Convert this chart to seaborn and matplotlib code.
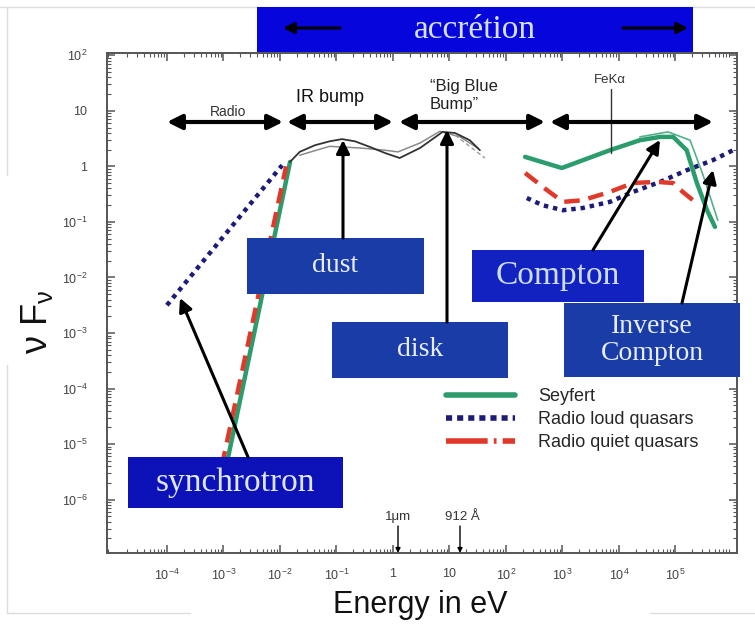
import numpy as np
import matplotlib
matplotlib.use("Agg")
import matplotlib.pyplot as plt
import seaborn as sns
from matplotlib.patches import Rectangle, FancyArrowPatch
from matplotlib.lines import Line2D
from matplotlib.ticker import FixedLocator, FuncFormatter, LogLocator, NullFormatter

# ---------------- data (log10 of energy in eV / log10 of nu F_nu) ----------------
series_names = ["Seyfert", "Radio loud quasars", "Radio quiet quasars"]

seyfert_radio_logE = [-2.95, -1.82]
seyfert_radio_logF = [-5.40, 0.08]
rquiet_radio_logE = [-3.03, -1.89]
rquiet_radio_logF = [-5.40, 0.00]
rloud_radio_logE = [-4.00, -1.96]
rloud_radio_logF = [-2.50, 0.02]

bump_logE = [-1.82, -1.65, -1.38, -1.12, -0.90, -0.67, -0.41, -0.14, 0.12, 0.48, 0.88, 1.10, 1.36, 1.54]
bump_logF = [0.08, 0.26, 0.38, 0.45, 0.49, 0.45, 0.35, 0.24, 0.15, 0.33, 0.62, 0.60, 0.47, 0.29]
bump2_logE = [-1.65, -1.12, -0.58, -0.14, 0.09, 0.48, 0.83, 1.19, 1.50]
bump2_logF = [0.20, 0.36, 0.33, 0.29, 0.26, 0.42, 0.63, 0.53, 0.33]
bump3_logE = [1.10, 1.63]
bump3_logF = [0.56, 0.15]

seyfert_x_logE = [2.34, 2.99, 3.84, 4.37, 4.73, 4.96, 5.20, 5.38, 5.56, 5.70]
seyfert_x_logF = [0.17, -0.03, 0.29, 0.47, 0.53, 0.53, 0.29, -0.30, -0.79, -1.09]
seyfert_x2_logE = [4.37, 4.87, 5.26, 5.49, 5.75]
seyfert_x2_logF = [0.53, 0.62, 0.47, -0.16, -0.97]
rquiet_x_logE = [2.34, 2.73, 3.01, 3.36, 3.84, 4.25, 4.67, 4.96, 5.13, 5.31]
rquiet_x_logF = [-0.12, -0.43, -0.64, -0.61, -0.46, -0.30, -0.28, -0.30, -0.46, -0.61]
rloud_x_logE = [2.37, 2.65, 3.01, 3.36, 3.84, 4.25, 4.73, 5.20, 5.66, 6.08]
rloud_x_logF = [-0.57, -0.70, -0.79, -0.75, -0.64, -0.46, -0.28, -0.07, 0.11, 0.32]

x_tick_exps = list(range(-4, 6))
y_tick_exps = list(range(-6, 3))

# ---------------- style ----------------
sns.set_theme(style="ticks")
plt.rcParams["font.family"] = ["Liberation Sans", "DejaVu Sans"]
plt.rcParams["mathtext.fontset"] = "custom"
plt.rcParams["mathtext.rm"] = "Liberation Sans"
plt.rcParams["mathtext.it"] = "Liberation Sans"
plt.rcParams["mathtext.bf"] = "Liberation Sans:bold"

GREEN = "#2b9c6c"
NAVY = "#1c1c78"
RED = "#e0392b"
SERIF = ["Liberation Serif", "DejaVu Serif"]

W, H = 755, 624
fig = plt.figure(figsize=(W / 100, H / 100), dpi=100)
fig.patch.set_facecolor("white")


def fx(px):
    return px / W


def fy(py):
    return 1 - py / H


ax = fig.add_axes([fx(107), fy(553), (737 - 107) / W, (553 - 53) / H])
ax.set_xscale("log")
ax.set_yscale("log")
ax.set_xlim(10 ** -5.06, 10 ** 6.09)
ax.set_ylim(10 ** -6.96, 10 ** 2.04)


def seg(logE, logF, **kw):
    sns.lineplot(x=10 ** np.asarray(logE), y=10 ** np.asarray(logF), ax=ax,
                 sort=False, estimator=None, legend=False, **kw)


# radio branch
seg(rloud_radio_logE, rloud_radio_logF, color=NAVY, lw=3.2, linestyle=(0, (1, 1.1)))
seg(seyfert_radio_logE, seyfert_radio_logF, color=GREEN, lw=3.2)
seg(rquiet_radio_logE, rquiet_radio_logF, color=RED, lw=3.2, linestyle=(0, (3.5, 2)))
# IR / optical bump
seg(bump2_logE, bump2_logF, color="#8a8a8a", lw=1.1)
seg(bump_logE, bump_logF, color="#333333", lw=1.3)
seg(bump3_logE, bump3_logF, color="#9a9a9a", lw=1.0, linestyle=(0, (3, 2)))
# X-ray branch
seg(seyfert_x2_logE, seyfert_x2_logF, color=GREEN, lw=1.2, alpha=0.8)
seg(rloud_x_logE, rloud_x_logF, color=NAVY, lw=3.2, linestyle=(0, (1, 1.1)))
seg(rquiet_x_logE, rquiet_x_logF, color=RED, lw=3.2, linestyle=(0, (3.5, 2)))
seg(seyfert_x_logE, seyfert_x_logF, color=GREEN, lw=3.2)

# ---------------- axes cosmetics ----------------
for s in ax.spines.values():
    s.set_color("#555555")
    s.set_linewidth(1.4)


def fmt(v, pos=None):
    e = int(round(np.log10(v)))
    if e == 0:
        return "1"
    if e == 1:
        return "10"
    return r"$10^{%d}$" % e


ax.xaxis.set_major_locator(FixedLocator([10.0 ** e for e in x_tick_exps]))
ax.yaxis.set_major_locator(FixedLocator([10.0 ** e for e in y_tick_exps]))
ax.xaxis.set_major_formatter(FuncFormatter(fmt))
ax.yaxis.set_major_formatter(FuncFormatter(fmt))
ax.xaxis.set_minor_locator(LogLocator(base=10, subs=np.arange(2, 10), numticks=30))
ax.yaxis.set_minor_locator(LogLocator(base=10, subs=np.arange(2, 10), numticks=30))
ax.xaxis.set_minor_formatter(NullFormatter())
ax.yaxis.set_minor_formatter(NullFormatter())
ax.tick_params(which="both", direction="in", top=True, right=True, color="#555555")
ax.tick_params(which="major", length=6, width=1.1, labelsize=9, labelcolor="#444444")
ax.tick_params(which="minor", length=3, width=0.8)
ax.tick_params(axis="x", which="major", pad=11)
ax.tick_params(axis="y", which="major", pad=14)

ax.set_xlabel("Energy in eV", fontsize=22, color="#111111")
ax.xaxis.set_label_coords(0.497, -0.074)
ax.set_ylabel(r"$\nu\ F_{\nu}$", fontsize=26, color="#111111")
ax.yaxis.set_label_coords(-0.083, 0.462)

# legend
handles = [
    Line2D([], [], color=GREEN, lw=4),
    Line2D([], [], color=NAVY, lw=4, linestyle=(0, (1.1, 0.9))),
    Line2D([], [], color=RED, lw=4, linestyle=(0, (7.5, 1.1, 0.5, 1.1))),
]
leg = ax.legend(handles, series_names, loc="upper left", bbox_to_anchor=(fx(446), fy(388)),
                bbox_transform=fig.transFigure, frameon=False, fontsize=13,
                handlelength=3.8, handletextpad=1.3, labelspacing=0.33,
                borderpad=0, borderaxespad=0)

# ---------------- annotations (figure pixel layout) ----------------
def fig_line(x0, y0, x1, y1, color="#dddddd", lw=1.0):
    fig.add_artist(Line2D([fx(x0), fx(x1)], [fy(y0), fy(y1)], transform=fig.transFigure,
                          color=color, lw=lw, zorder=1))


fig_line(0, 7, 755, 7)
fig_line(7, 7, 7, 175)
fig_line(7, 365, 7, 613)
fig_line(7, 613, 190, 613)
fig_line(650, 613, 755, 613)


def arrow(x0, y0, x1, y1, style="-|>", lw=2.2, ms=20, z=12):
    fig.add_artist(FancyArrowPatch((fx(x0), fy(y0)), (fx(x1), fy(y1)), transform=fig.transFigure,
                                   arrowstyle=style, mutation_scale=ms, lw=lw, color="black",
                                   shrinkA=0, shrinkB=0, zorder=z))


def box(x0, y0, x1, y1, color, text, size, tcolor="#e8eeff", ls=1.2):
    fig.add_artist(Rectangle((fx(x0), fy(y1)), (x1 - x0) / W, (y1 - y0) / H,
                             transform=fig.transFigure, facecolor=color, edgecolor="none", zorder=10))
    fig.text(fx((x0 + x1) / 2), fy((y0 + y1) / 2), text, ha="center", va="center",
             fontsize=size, color=tcolor, family=SERIF, zorder=11, linespacing=ls)


# region double arrows
arrow(167, 122, 283, 122, style="<|-|>", lw=3, ms=22)
arrow(287, 122, 393, 122, style="<|-|>", lw=3, ms=22)
arrow(399, 122, 545, 122, style="<|-|>", lw=3, ms=22)
arrow(550, 122, 713, 122, style="<|-|>", lw=3, ms=22)

fig.text(fx(228), fy(112), "Radio", ha="center", va="center", fontsize=10, color="#333333")
fig.text(fx(330), fy(98), "IR bump", ha="center", va="center", fontsize=13, color="#111111")
fig.text(fx(430), fy(96), "\u201cBig Blue\nBump\u201d", ha="left", va="center", fontsize=12,
         color="#222222", linespacing=1.25)
fig.text(fx(610), fy(80), "FeK\u03b1", ha="center", va="center", fontsize=9.5, color="#333333")
fig_line(611, 89, 611, 153, color="#333333", lw=1.0)

fig.text(fx(398), fy(517), "1\u03bcm", ha="center", va="center", fontsize=9.5, color="#333333")
arrow(398, 526, 398, 553, lw=1.0, ms=7)
fig.text(fx(462), fy(517), "912 \u00c5", ha="center", va="center", fontsize=9.5, color="#333333")
arrow(460, 526, 460, 553, lw=1.0, ms=7)

# accretion banner
box(257, 7, 693, 52, "#0606dc", "accr\u00e9tion", 24, tcolor="#d6e0ff")
arrow(340, 28, 283, 28, lw=2.2, ms=16)
arrow(623, 28, 688, 28, lw=2.2, ms=16)

# component boxes
box(247, 238, 424, 294, "#1a3ca6", "dust", 20)
box(332, 322, 508, 378, "#1a3ca6", "disk", 20)
box(472, 250, 644, 302, "#1222c0", "Compton", 24, tcolor="#cfdcff")
box(564, 303, 740, 377, "#1a3ca6", "Inverse\nCompton", 20, ls=1.15)
box(128, 457, 343, 508, "#0c12b8", "synchrotron", 24, tcolor="#dfe6ff")

# pointer arrows
arrow(343, 238, 343, 140)
arrow(447, 322, 447, 130)
arrow(248, 457, 180, 298)
arrow(593, 250, 660, 140)
arrow(682, 303, 713, 170)

fig.savefig("out.png", dpi=100)
